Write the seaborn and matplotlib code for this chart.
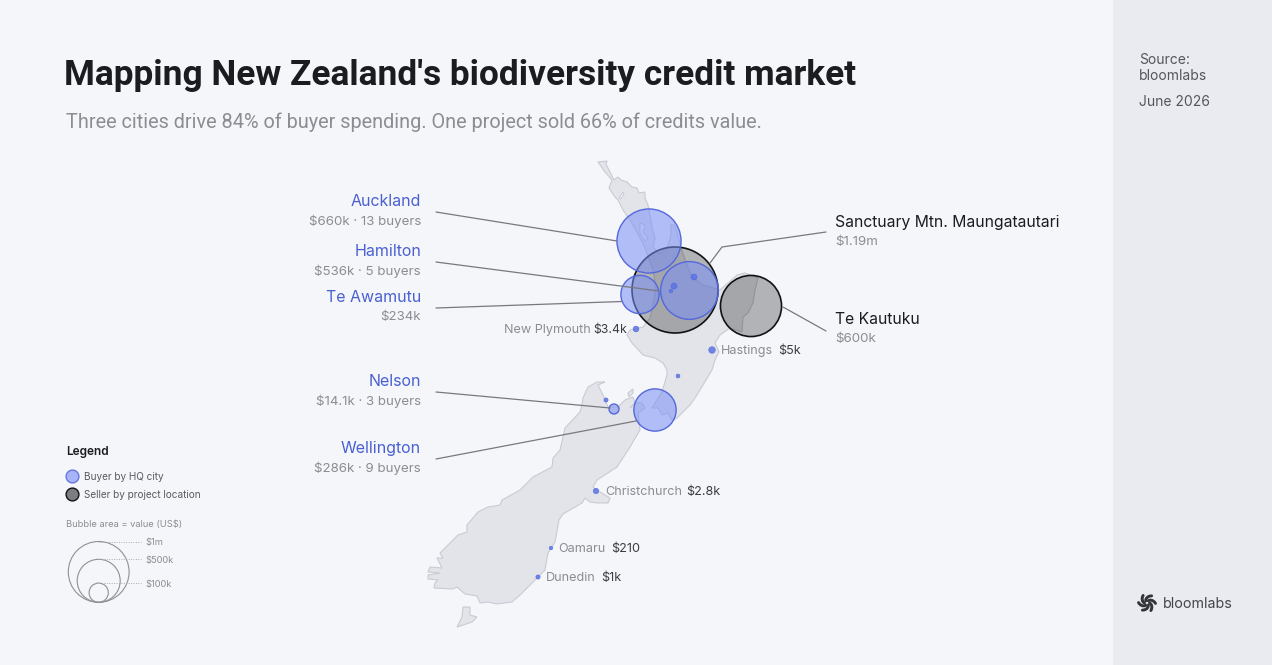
import numpy as np
import pandas as pd
import matplotlib
matplotlib.use("Agg")
import matplotlib.pyplot as plt
from matplotlib.patches import Rectangle
import seaborn as sns

# buyers by HQ city, map positions (map units = image pixels)
buyer_city = ["Auckland", "Hamilton", "Te Awamutu", "Nelson", "Wellington", "New Plymouth",
              "Hastings", "Christchurch", "Oamaru", "Dunedin", "Unnamed A", "Unnamed B",
              "Unnamed C", "Unnamed D", "Unnamed E"]
buyer_value = [660000, 536000, 234000, 14100, 286000, 3400, 5000, 2800, 210, 1000, 4000, 4000, 300, 500, 900]
buyer_x = [649, 689.5, 640, 614, 655, 636, 712, 596, 551, 538, 674, 694, 671, 678, 606]
buyer_y = [241, 290.5, 294.5, 409, 410, 329, 350, 491, 548, 577, 286, 277, 291, 376, 400]

seller_name = ["Sanctuary Mtn. Maungatautari", "Te Kautuku"]
seller_value = [1190000, 600000]
seller_x = [675, 751]
seller_y = [290, 306]

bubble_legend_value = [1000000, 500000, 100000]
bubble_legend_label = ["$1m", "$500k", "$100k"]

north_x = [598, 607, 606, 610, 614, 618, 621, 627, 632, 637, 639, 645, 645, 648, 649, 652, 655, 653, 660, 668,
           671, 671, 675, 678, 681, 688, 692, 703, 720, 737, 745, 758, 755, 753, 748, 743, 742, 730, 720, 715,
           719, 715, 712, 703, 695, 690, 677, 672, 668, 662, 658, 652, 662, 667, 667, 663, 655, 643, 632, 627,
           630, 643, 650, 652, 656, 653, 650, 645, 637, 630, 623, 618, 615, 609, 612, 605]
north_y = [162, 161, 164, 172, 180, 177, 180, 182, 187, 188, 193, 192, 198, 205, 210, 227, 238, 247, 254, 246,
           235, 224, 226, 236, 248, 268, 277, 285, 290, 275, 273, 278, 290, 303, 313, 317, 332, 328, 335, 343,
           352, 360, 370, 385, 398, 405, 418, 420, 413, 415, 408, 408, 392, 375, 370, 363, 358, 355, 343, 335,
           330, 327, 318, 310, 288, 270, 262, 248, 232, 220, 210, 200, 197, 188, 180, 172]
south_x = [603, 597, 588, 583, 582, 580, 565, 560, 553, 552, 533, 520, 502, 500, 488, 478, 467, 467, 458, 453,
           445, 440, 443, 437, 442, 430, 428, 440, 428, 428, 438, 435, 434, 453, 457, 465, 477, 480, 488, 497,
           512, 520, 538, 545, 548, 555, 559, 563, 582, 585, 590, 597, 608, 610, 600, 593, 597, 617, 630, 640,
           638, 645, 642, 635, 630, 635, 633, 625, 618, 608, 603, 598, 605]
south_y = [382, 382, 387, 398, 405, 412, 428, 450, 458, 467, 477, 490, 500, 505, 507, 512, 525, 532, 535, 540,
           548, 553, 558, 558, 568, 567, 572, 573, 575, 579, 580, 583, 588, 589, 587, 594, 596, 603, 602, 604,
           602, 595, 577, 570, 553, 542, 520, 514, 503, 498, 502, 503, 503, 498, 492, 487, 480, 467, 447, 430,
           413, 408, 403, 403, 408, 403, 397, 400, 407, 407, 395, 385, 382]
stewart_x = [463, 470, 470, 477, 472, 457, 462]
stewart_y = [607, 607, 615, 617, 622, 627, 617]
durville_x = [628, 633, 633, 629]
durville_y = [393, 389, 393, 397]
hokianga_x = [619, 623, 624, 621]
hokianga_y = [198, 192, 194, 199]
kaipara_x = [640, 645, 643, 648, 645, 640]
kaipara_y = [223, 225, 232, 238, 241, 233]

BG = "#F4F6FA"
PANEL = "#E9EBF0"
LAND = "#E2E4EA"
COAST = "#C8CBD2"
BUYER_EDGE = "#5468DC"
BLUE_TEXT = "#4A60D2"
GREY_TEXT = "#8B8D93"
DARK_TEXT = "#3C3D42"

sns.set_theme(style="white")
plt.rcParams["font.family"] = ["Inter", "DejaVu Sans"]

fig = plt.figure(figsize=(12.72, 6.65), dpi=100, facecolor=BG)
ax = fig.add_axes([0, 0, 1, 1])
ax.set_xlim(0, 1272)
ax.set_ylim(665, 0)
ax.axis("off")

ax.add_patch(Rectangle((1113, 0), 159, 665, color=PANEL, lw=0))

for xs, ys in [(north_x, north_y), (south_x, south_y), (stewart_x, stewart_y), (durville_x, durville_y)]:
    ax.fill(xs, ys, facecolor=LAND, edgecolor=COAST, lw=0.8, zorder=1)
for xs, ys in [(hokianga_x, hokianga_y), (kaipara_x, kaipara_y)]:
    ax.fill(xs, ys, facecolor=BG, edgecolor=COAST, lw=0.7, zorder=2)

sellers = pd.DataFrame({"name": seller_name, "value": seller_value, "x": seller_x, "y": seller_y})
buyers = pd.DataFrame({"city": buyer_city, "value": buyer_value, "x": buyer_x, "y": buyer_y})

max_s = (2 * 43 * 0.72) ** 2

sns.scatterplot(data=sellers, x="x", y="y", size="value", sizes=(6, max_s), size_norm=(0, 1190000),
                legend=False, ax=ax, zorder=3)
pts = ax.collections[-1]
pts.set_alpha(None)
pts.set_facecolor((0, 0, 0, 0.27))
pts.set_edgecolor("#111214")
pts.set_linewidth(1.2)

sns.scatterplot(data=buyers, x="x", y="y", size="value", sizes=(6, max_s), size_norm=(0, 1190000),
                legend=False, ax=ax, zorder=4)
pts = ax.collections[-1]
pts.set_alpha(None)
# tiny dots read almost solid in the original, big bubbles are see-through
pts.set_facecolor([(0.48, 0.56, 0.96, 0.55) if v > 10000 else (0.36, 0.45, 0.9, 0.85) for v in buyer_value])
pts.set_edgecolor(BUYER_EDGE)
pts.set_linewidth([1.0 if v > 10000 else 0.4 for v in buyer_value])

# leader lines
leader = dict(color="#77797F", lw=0.9, zorder=5)
ax.plot([436, 617], [212, 241], **leader)
ax.plot([436, 659], [262, 291], **leader)
ax.plot([436, 622], [308, 301.5], **leader)
ax.plot([436, 610], [392, 408], **leader)
ax.plot([436, 636], [459, 421], **leader)
ax.plot([826, 722, 710], [232, 247, 263], **leader)
ax.plot([826, 783], [331, 307], **leader)


def label(x, y, s, color=DARK_TEXT, size=10, ha="left", weight="normal", family=None):
    t = ax.text(x, y + 1, s, color=color, fontsize=size, ha=ha, va="center", fontweight=weight, zorder=6)
    if family:
        t.set_family(family)


label(64, 74, "Mapping New Zealand's biodiversity credit market", "#1B1C20", 25.4, weight="semibold", family="Roboto")
label(66, 121, "Three cities drive 84% of buyer spending. One project sold 66% of credits value.", GREY_TEXT, 14.3,
      family="Roboto")

label(421, 201, "Auckland", BLUE_TEXT, 11.5, "right")
label(421, 220, "$660k · 13 buyers", GREY_TEXT, 9.6, "right")
label(421, 251, "Hamilton", BLUE_TEXT, 11.5, "right")
label(421, 270, "$536k · 5 buyers", GREY_TEXT, 9.6, "right")
label(421, 297, "Te Awamutu", BLUE_TEXT, 11.5, "right")
label(421, 316, "$234k", GREY_TEXT, 9.6, "right")
label(421, 381, "Nelson", BLUE_TEXT, 11.5, "right")
label(421, 400, "$14.1k · 3 buyers", GREY_TEXT, 9.6, "right")
label(421, 448, "Wellington", BLUE_TEXT, 11.5, "right")
label(421, 467, "$286k · 9 buyers", GREY_TEXT, 9.6, "right")

label(835, 222, "Sanctuary Mtn. Maungatautari", "#1B1C20", 11.3)
label(835, 241, "$1.19m", GREY_TEXT, 9.6)
label(835, 319, "Te Kautuku", "#1B1C20", 11.3)
label(835, 338, "$600k", GREY_TEXT, 9.6)

label(591, 329, "New Plymouth", GREY_TEXT, 9.1, "right")
label(627, 329, "$3.4k", DARK_TEXT, 8.8, "right")
label(721, 350, "Hastings", GREY_TEXT, 9.1)
label(778, 350, "$5k", DARK_TEXT, 9.1)
label(605, 491, "Christchurch", GREY_TEXT, 9.1)
label(686, 491, "$2.8k", DARK_TEXT, 9.1)
label(558, 548, "Oamaru", GREY_TEXT, 9.1)
label(611, 548, "$210", DARK_TEXT, 9.1)
label(546, 577, "Dunedin", GREY_TEXT, 9.1)
label(601, 577, "$1k", DARK_TEXT, 9.1)

# colour legend
label(66, 451, "Legend", "#1B1C20", 8.5, weight="semibold")
ax.scatter([71.5], [476], s=85, facecolor="#A9B4F8", edgecolor="#6678DC", lw=1, zorder=5)
ax.scatter([71.5], [494], s=85, facecolor="#7C7D82", edgecolor="#111214", lw=1, zorder=5)
label(84, 476, "Buyer by HQ city", "#5A5B61", 7.2)
label(84, 494, "Seller by project location", "#5A5B61", 7.2)

# bubble size legend, nested on a common base
label(66, 523, "Bubble area = value (US$)", GREY_TEXT, 6.7)
base_y = 602.3
for value, text in zip(bubble_legend_value, bubble_legend_label):
    r = 30.4 * np.sqrt(value / 1000000)
    leg = pd.DataFrame({"x": [98.7], "y": [base_y - r]})
    sns.scatterplot(data=leg, x="x", y="y", s=(2 * r * 0.72) ** 2, legend=False, ax=ax, zorder=5)
    pts = ax.collections[-1]
    pts.set_alpha(None)
    pts.set_facecolor("none")
    pts.set_edgecolor("#8E9096")
    pts.set_linewidth(0.8)
    ax.plot([98.7, 141], [base_y - 2 * r] * 2, color="#A8AAB0", lw=0.7, ls=(0, (1, 1.5)), zorder=5)
    label(145, base_y - 2 * r, text, GREY_TEXT, 6.7)

# side panel
label(1139, 59, "Source:", "#55565C", 10)
label(1139, 75, "bloomlabs", "#55565C", 10)
label(1139, 101, "June 2026", "#55565C", 10)
label(1163, 603, "bloomlabs", "#44454B", 10.3)

# logo swirl
for a in np.arange(6) * np.pi / 3:
    t = np.linspace(0, 1, 12)
    rad = 2.5 + 6 * t
    ang = a + 1.1 * t
    ax.plot(1147 + rad * np.cos(ang), 603 + rad * np.sin(ang), color="#33343A", lw=2.1,
            solid_capstyle="round", zorder=6)

fig.savefig("out.png", dpi=100, facecolor=BG)
